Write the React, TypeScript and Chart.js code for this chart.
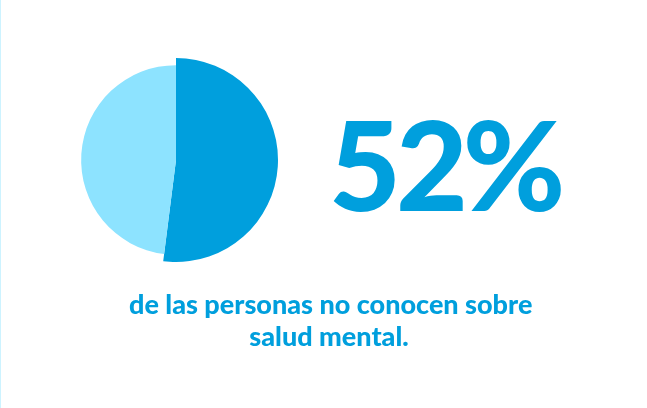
import React, { useEffect, useRef } from "react";
import { Chart, registerables } from "chart.js";

Chart.register(...registerables);

const categories = ["No conocen sobre salud mental", "Sí conocen"];
const values = [52, 48];
const colors = ["#009FDD", "#8DE3FF"];
const headline = "52%";
const captionLines = ["de las personas no conocen sobre", "salud mental."];

const shrinkSecond = {
  id: "shrinkSecond",
  afterDatasetsUpdate(chart: any) {
    const meta = chart.getDatasetMeta(0);
    const big = meta.data[0];
    const small = meta.data[1];
    if (big && small) {
      small.outerRadius = big.outerRadius * 0.93;
    }
  },
};

export default function App() {
  const ref = useRef<HTMLCanvasElement | null>(null);
  useEffect(() => {
    if (!ref.current) return;
    const chart = new Chart(ref.current, {
      type: "pie",
      data: {
        labels: categories,
        datasets: [
          {
            data: values,
            backgroundColor: colors,
            borderWidth: 0,
          },
        ],
      },
      options: {
        responsive: false,
        animation: false,
        layout: { padding: { left: 74, right: 369, top: 58, bottom: 146 } },
        plugins: { legend: { display: false }, tooltip: { enabled: false } },
      },
      plugins: [shrinkSecond],
    });
    return () => chart.destroy();
  }, []);

  return (
    <div
      style={{
        position: "fixed",
        left: 0,
        top: 0,
        width: 647,
        height: 408,
        background: "#fff",
        borderLeft: "1px solid #CDF3FF",
        boxSizing: "border-box",
        overflow: "hidden",
      }}
    >
      <canvas
        ref={ref}
        width={647}
        height={408}
        style={{ position: "absolute", left: -1, top: 0 }}
      />
      <div
        style={{
          position: "absolute",
          left: 328,
          top: 101,
          fontFamily: "Lato",
          fontWeight: 900,
          fontSize: 124,
          lineHeight: "124px",
          color: "#009FDD",
          letterSpacing: -5,
          whiteSpace: "nowrap",
        }}
      >
        {headline}
      </div>
      <div
        style={{
          position: "absolute",
          left: 128,
          width: 400,
          top: 288,
          fontFamily: "Lato",
          fontWeight: 900,
          fontSize: 27,
          lineHeight: "32px",
          color: "#009FDD",
          textAlign: "center",
          whiteSpace: "nowrap",
        }}
      >
        {captionLines.map((l, i) => (
          <div key={i}>{l}</div>
        ))}
      </div>
    </div>
  );
}
